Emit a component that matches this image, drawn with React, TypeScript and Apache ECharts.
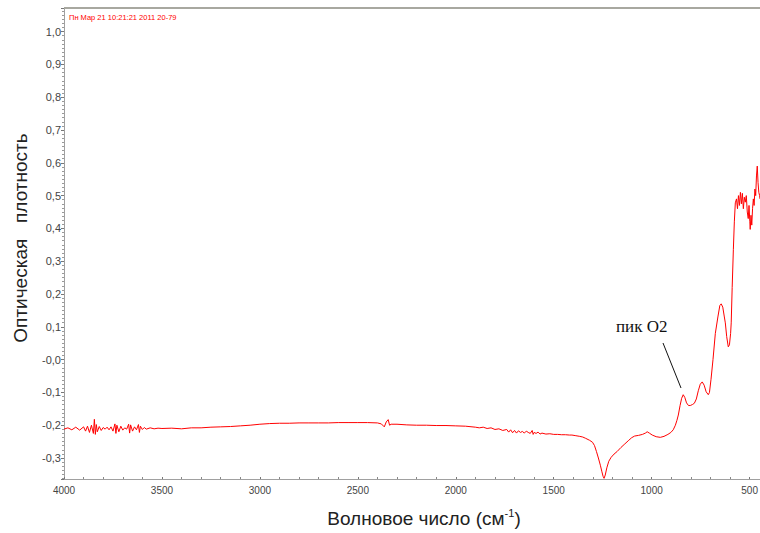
import React, { useEffect, useRef } from "react";
import * as echarts from "echarts";

// Spectrum: wavenumber (cm^-1) and optical density
const wavenumbers: number[] = [
  4000, 3980, 3960, 3940, 3920, 3900, 3890, 3880, 3870, 3860, 3850, 3845, 3840, 3835, 3830, 3820, 3810, 3800,
  3790, 3780, 3770, 3760, 3750, 3740, 3735, 3730, 3720, 3710, 3700, 3690, 3680, 3670, 3665, 3660, 3650, 3640,
  3630, 3620, 3615, 3610, 3600, 3590, 3580, 3560, 3540, 3520, 3500, 3450, 3400, 3350, 3300, 3250, 3200, 3150,
  3100, 3050, 3000, 2950, 2900, 2850, 2800, 2750, 2700, 2650, 2600, 2550, 2500, 2450, 2400, 2380, 2365, 2355,
  2345, 2338, 2330, 2300, 2250, 2200, 2150, 2100, 2050, 2000, 1950, 1900, 1880, 1860, 1840, 1820, 1800, 1780,
  1760, 1740, 1730, 1720, 1710, 1700, 1690, 1680, 1670, 1660, 1650, 1640, 1630, 1620, 1610, 1605, 1600, 1590,
  1580, 1570, 1560, 1540, 1520, 1500, 1480, 1460, 1440, 1420,
  1407, 1387, 1367, 1352, 1337, 1317, 1302, 1292, 1282, 1272, 1262, 1254, 1248, 1243, 1237, 1229, 1219, 1207,
  1192, 1176, 1157, 1137, 1117, 1102, 1087, 1067, 1047, 1032, 1023, 1012, 997, 977, 956, 937, 917, 902, 890,
  879, 871, 864, 855, 847, 839, 831, 822, 812, 803, 792, 782, 772, 762, 752, 742, 732, 722, 711, 705, 697, 687,
  675, 662, 652, 645, 637, 629, 624, 617, 609, 603, 597, 594, 589, 583, 578, 573, 567, 562, 557, 552, 547, 542,
  537, 532, 527, 522, 517, 512, 507, 503, 499, 497, 493, 489, 485, 481, 477, 473, 469, 465, 461, 457, 453, 449,
  447,
];

const density: number[] = [
  -0.212, -0.208, -0.214, -0.206, -0.215, -0.205, -0.218, -0.203, -0.222, -0.2, -0.225, -0.182, -0.228, -0.198,
  -0.22, -0.204, -0.216, -0.207, -0.212, -0.206, -0.214, -0.205, -0.218, -0.196, -0.225, -0.2, -0.22, -0.203,
  -0.215, -0.208, -0.212, -0.197, -0.224, -0.199, -0.218, -0.205, -0.214, -0.198, -0.222, -0.203, -0.213, -0.207,
  -0.212, -0.208, -0.211, -0.209, -0.21, -0.209, -0.211, -0.208, -0.208, -0.206, -0.205, -0.204, -0.202, -0.2,
  -0.197, -0.195, -0.194, -0.194, -0.193, -0.193, -0.193, -0.193, -0.192, -0.192, -0.192, -0.192, -0.193, -0.196,
  -0.205, -0.19, -0.183, -0.2, -0.197, -0.197, -0.199, -0.2, -0.2, -0.201, -0.201, -0.202, -0.203, -0.206, -0.208,
  -0.206, -0.21, -0.208, -0.213, -0.211, -0.216, -0.213, -0.221, -0.214, -0.223, -0.216, -0.224, -0.217, -0.222,
  -0.219, -0.224, -0.218, -0.222, -0.225, -0.216, -0.228, -0.222, -0.225, -0.221, -0.227, -0.224, -0.227, -0.226,
  -0.228, -0.228, -0.229, -0.229, -0.23, -0.23, -0.232, -0.234, -0.236, -0.24, -0.246, -0.252, -0.262, -0.28,
  -0.3, -0.322, -0.342, -0.356, -0.362, -0.352, -0.33, -0.31, -0.298, -0.288, -0.28, -0.268, -0.257, -0.246,
  -0.238, -0.233, -0.231, -0.228, -0.224, -0.22, -0.224, -0.23, -0.235, -0.237, -0.234, -0.228, -0.222, -0.214,
  -0.2, -0.185, -0.169, -0.14, -0.118, -0.107, -0.115, -0.132, -0.14, -0.14, -0.137, -0.133, -0.12, -0.095,
  -0.075, -0.068, -0.078, -0.098, -0.107, -0.1, -0.06, 0.0, 0.08, 0.13, 0.165, 0.17, 0.16, 0.13, 0.112, 0.07,
  0.039, 0.045, 0.08, 0.112, 0.22, 0.335, 0.42, 0.478, 0.49, 0.46, 0.5, 0.47, 0.51, 0.475, 0.507, 0.46, 0.495,
  0.48, 0.5, 0.45, 0.43, 0.47, 0.42, 0.397, 0.44, 0.41, 0.46, 0.49, 0.47, 0.52, 0.5, 0.56, 0.59, 0.54, 0.51, 0.5,
  0.49,
];

const xRange: number[] = [447, 4000];
const yRange: number[] = [-0.364, 1.072];

const stampText = "Пн Мар 21 10:21:21 2011 20-79";
const yTitle = "Оптическая   плотность";
const xTitle = "Волновое число (см";
const annotation = "пик О2";

export default function App() {
  const ref = useRef<HTMLDivElement>(null);

  useEffect(() => {
    if (!ref.current) return;
    const chart = echarts.init(ref.current, null, { renderer: "svg" });
    const pts = wavenumbers.map((w, i) => [w, density[i]]);
    const isTick = (v: number, step: number) => Math.abs(v / step - Math.round(v / step)) < 1e-6;

    chart.setOption({
      animation: false,
      backgroundColor: "#ffffff",
      grid: { left: 64, top: 8, right: 0, bottom: 54, containLabel: false, outerBoundsMode: "none" },
      xAxis: {
        type: "value",
        inverse: true,
        min: xRange[0],
        max: xRange[1],
        splitNumber: 7,
        axisLine: { show: true, onZero: false, lineStyle: { color: "#a0a0a0", width: 1 } },
        axisTick: { show: true, inside: true, length: 2, lineStyle: { color: "#777" } },
        minorTick: { show: true, splitNumber: 5, length: 2, lineStyle: { color: "#888" } },
        splitLine: { show: false },
        axisLabel: {
          color: "#444",
          fontSize: 10,
          fontFamily: "Arial, Liberation Sans, sans-serif",
          margin: 6,
          formatter: (v: number) => (isTick(v, 500) ? String(v) : ""),
        },
      },
      yAxis: {
        type: "value",
        min: yRange[0],
        max: yRange[1],
        splitNumber: 14,
        axisLine: { show: true, onZero: false, lineStyle: { color: "#a0a0a0", width: 1 } },
        axisTick: { show: true, length: 3, lineStyle: { color: "#777" } },
        minorTick: { show: true, splitNumber: 8, length: 2, lineStyle: { color: "#999" } },
        splitLine: { show: false },
        axisLabel: {
          color: "#444",
          fontSize: 11,
          fontFamily: "Arial, Liberation Sans, sans-serif",
          margin: 3,
          formatter: (v: number) => {
            if (!isTick(v, 0.1)) return "";
            const r = Math.round(v * 10) / 10;
            if (r === 0) return "-0,0";
            return r.toFixed(1).replace(".", ",");
          },
        },
      },
      series: [
        {
          type: "line",
          data: pts,
          showSymbol: false,
          symbol: "none",
          lineStyle: { color: "#ff0000", width: 1 },
          z: 3,
        },
      ],
      graphic: [
        {
          type: "line",
          shape: { x1: 64, y1: 8, x2: 760, y2: 8 },
          style: { stroke: "#a8a8a0", lineWidth: 2 },
          z: 10,
        },
        {
          type: "text",
          x: 69,
          y: 17,
          style: {
            text: stampText,
            fill: "#ff0000",
            fontSize: 7.5,
            fontFamily: "Arial, Liberation Sans, sans-serif",
            verticalAlign: "middle",
          },
        },
        {
          type: "text",
          x: 20,
          y: 238,
          rotation: Math.PI / 2,
          style: {
            text: yTitle,
            fill: "#222",
            fontSize: 19,
            fontFamily: "Arial, Liberation Sans, sans-serif",
            align: "center",
            verticalAlign: "middle",
          },
        },
        {
          type: "text",
          x: 424,
          y: 518,
          style: {
            text: xTitle + "{sup|-1})",
            fill: "#222",
            fontSize: 19,
            fontFamily: "Arial, Liberation Sans, sans-serif",
            align: "center",
            verticalAlign: "middle",
            rich: {
              sup: { fontSize: 11, fill: "#222", verticalAlign: "top", lineHeight: 22, fontFamily: "Arial, Liberation Sans, sans-serif" },
            },
          },
        },
        {
          type: "text",
          x: 616,
          y: 326,
          style: {
            text: annotation,
            fill: "#111",
            fontSize: 17,
            fontFamily: "Liberation Serif, Times New Roman, serif",
            verticalAlign: "middle",
          },
        },
        {
          type: "line",
          shape: { x1: 663, y1: 343, x2: 681, y2: 388 },
          style: { stroke: "#111", lineWidth: 1 },
        },
      ],
    });
    return () => chart.dispose();
  }, []);

  return (
    <div
      ref={ref}
      style={{ position: "absolute", left: 0, top: 0, width: 760, height: 533 }}
    />
  );
}
